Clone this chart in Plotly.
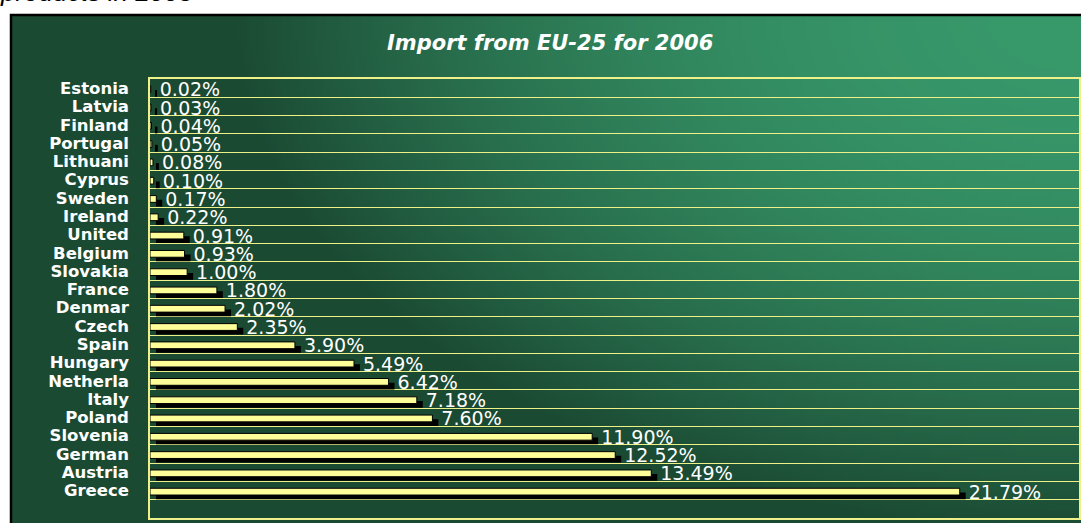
import base64
import struct
import zlib

import numpy as np
import plotly.graph_objects as go

# ---------------- data ----------------
countries = ["Estonia", "Latvia", "Finland", "Portugal", "Lithuani", "Cyprus",
             "Sweden", "Ireland", "United", "Belgium", "Slovakia", "France",
             "Denmar", "Czech", "Spain", "Hungary", "Netherla", "Italy",
             "Poland", "Slovenia", "German", "Austria", "Greece"]
values = [0.02, 0.03, 0.04, 0.05, 0.08, 0.10, 0.17, 0.22, 0.91, 0.93, 1.00,
          1.80, 2.02, 2.35, 3.90, 5.49, 6.42, 7.18, 7.60, 11.90, 12.52,
          13.49, 21.79]
value_labels = [f"{v:.2f}%" for v in values]
chart_title = "Import from EU-25 for 2006"
page_text = "products in 2005"

# ---------------- geometry / styling ----------------
W, H = 1081, 523
FRAME_L, FRAME_T = 11, 15
PLOT_L, PLOT_R, PLOT_T, PLOT_B = 150, 1079, 79, 518
SHADOW_SHIFT = 0.16  # % units (~6 px)

DARK = np.array([27, 74, 51], dtype=float)
LIGHT = np.array([56, 153, 107], dtype=float)


def gradient_png(w=270, h=128):
    xs = np.linspace(FRAME_L, W, w)
    ys = np.linspace(FRAME_T, H, h)
    X, Y = np.meshgrid(xs, ys)
    dx = (W - X) / 850.0
    dy = (Y - FRAME_T) / 520.0
    t = np.clip(1 - dx ** 2 - dy ** 2, 0, 1)
    img = DARK[None, None, :] + (LIGHT - DARK)[None, None, :] * t[:, :, None]
    img = img.astype(np.uint8)
    raw = b"".join(b"\x00" + row.tobytes() for row in img)

    def chunk(tag, data):
        c = struct.pack(">I", len(data)) + tag + data
        return c + struct.pack(">I", zlib.crc32(tag + data) & 0xFFFFFFFF)

    png = b"\x89PNG\r\n\x1a\n"
    png += chunk(b"IHDR", struct.pack(">IIBBBBB", w, h, 8, 2, 0, 0, 0))
    png += chunk(b"IDAT", zlib.compress(raw, 9))
    png += chunk(b"IEND", b"")
    return "data:image/png;base64," + base64.b64encode(png).decode()


GRID = "#eef08a"

fig = go.Figure()

# shadow bars
fig.add_trace(go.Bar(
    y=countries, x=values, base=SHADOW_SHIFT, orientation="h",
    width=0.37, offset=0.10,
    marker=dict(color="black", line=dict(width=0)),
    hoverinfo="skip", showlegend=False,
))
# main yellow bars
fig.add_trace(go.Bar(
    y=countries, x=values, orientation="h",
    width=0.37, offset=-0.126,
    marker=dict(color="#ffff99", line=dict(color="black", width=1)),
    showlegend=False,
))
# value labels (invisible bar carrying the text)
fig.add_trace(go.Bar(
    y=countries, x=values, base=SHADOW_SHIFT, orientation="h",
    width=0.37, offset=-0.126,
    marker=dict(color="rgba(0,0,0,0)", line=dict(width=0)),
    text=value_labels, textposition="outside", constraintext="none",
    cliponaxis=False,
    textfont=dict(family="DejaVu Sans", size=19, color="white"),
    hoverinfo="skip", showlegend=False,
))

fig.update_layout(
    width=W, height=H,
    margin=dict(l=0, r=0, t=0, b=0),
    paper_bgcolor="white",
    plot_bgcolor="rgba(0,0,0,0)",
    barmode="overlay",
    xaxis=dict(
        domain=[PLOT_L / W, PLOT_R / W],
        range=[0, 25], showgrid=False, zeroline=False,
        showticklabels=False, ticks="",
        showline=True, mirror=True, linecolor=GRID, linewidth=1.5,
    ),
    yaxis=dict(
        domain=[1 - PLOT_B / H, 1 - PLOT_T / H],
        type="category", categoryorder="array", categoryarray=countries,
        tickmode="array", tickvals=countries, ticktext=countries,
        range=[len(countries) + 0.5, -0.5],
        tickson="boundaries", ticks="",
        showgrid=True, gridcolor=GRID, gridwidth=1.2,
        showline=True, mirror=True, linecolor=GRID, linewidth=1.5,
        ticklabelstandoff=16,
        tickfont=dict(family="DejaVu Sans", size=16.5, color="white",
                      weight="bold"),
    ),
    images=[dict(
        source=gradient_png(), xref="paper", yref="paper",
        x=FRAME_L / W, y=1 - FRAME_T / H,
        sizex=(W - FRAME_L) / W, sizey=(H - FRAME_T) / H,
        xanchor="left", yanchor="top", sizing="stretch", layer="below",
    )],
    shapes=[dict(
        type="rect", xref="paper", yref="paper",
        x0=FRAME_L / W, x1=1.05, y0=-0.05, y1=1 - FRAME_T / H,
        line=dict(color="black", width=2.5), fillcolor="rgba(0,0,0,0)",
        layer="above",
    )],
    annotations=[
        dict(text=chart_title, xref="paper", yref="paper",
             x=550 / W, y=1 - 43 / H, xanchor="center", yanchor="middle",
             showarrow=False,
             font=dict(family="DejaVu Sans", size=21, color="white",
                       weight="bold", style="italic")),
        dict(text=page_text, xref="paper", yref="paper",
             x=-2 / W, y=1 - 9 / H, xanchor="left", yanchor="bottom",
             showarrow=False,
             font=dict(family="Liberation Sans", size=26, color="black",
                       style="italic")),
    ],
)

fig.write_html(
    "out.html",
    config={"displayModeBar": False},
    post_script="document.body.style.margin='0';document.body.style.overflow='hidden';",
)
